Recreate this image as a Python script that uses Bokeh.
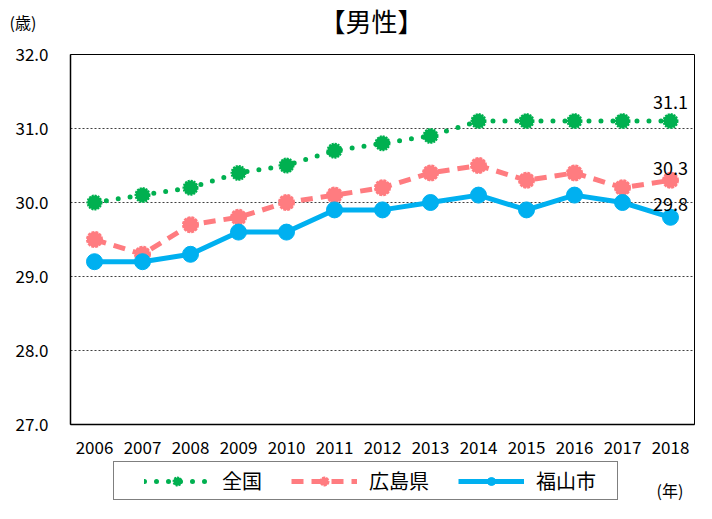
from bokeh.plotting import figure
from bokeh.layouts import column
from bokeh.models import Label, Legend, LegendItem, FixedTicker, NumeralTickFormatter, Range1d
from bokeh.embed import file_html
from bokeh.resources import INLINE

years = [2006, 2007, 2008, 2009, 2010, 2011, 2012, 2013, 2014, 2015, 2016, 2017, 2018]
zenkoku = [30.0, 30.1, 30.2, 30.4, 30.5, 30.7, 30.8, 30.9, 31.1, 31.1, 31.1, 31.1, 31.1]
hiroshima = [29.5, 29.3, 29.7, 29.8, 30.0, 30.1, 30.2, 30.4, 30.5, 30.3, 30.4, 30.2, 30.3]
fukuyama = [29.2, 29.2, 29.3, 29.6, 29.6, 29.9, 29.9, 30.0, 30.1, 29.9, 30.1, 30.0, 29.8]
y_ticks = [27, 28, 29, 30, 31, 32]
series_names = ["全国", "広島県", "福山市"]
title_text = "【男性】"
y_unit = "(歳)"
x_unit = "(年)"

FONT = "Noto Sans CJK JP"
GREEN = "#00B050"
PINK = "#FF7C80"
BLUE = "#00B0F0"
W = 696
HEAD_H, MAIN_H, FOOT_H = 40, 420, 43


def blank(h):
    f = figure(width=W, height=h, output_backend="svg", toolbar_location=None,
               min_border=0, x_range=Range1d(0, W), y_range=Range1d(0, h),
               x_axis_location=None, y_axis_location=None, frame_align=False)
    f.grid.grid_line_color = None
    f.outline_line_color = None
    f.background_fill_color = "white"
    f.border_fill_color = "white"
    return f


# header with title and unit
head = blank(HEAD_H)
head.add_layout(Label(x=371, y=HEAD_H - 20, text=title_text, text_align="center",
                      text_baseline="middle", text_font=FONT, text_font_size="26px",
                      text_color="black"))
head.add_layout(Label(x=9, y=HEAD_H - 21, text=y_unit, text_align="left",
                      text_baseline="middle", text_font=FONT, text_font_size="16px",
                      text_color="black"))

# main chart
p = figure(width=W, height=MAIN_H, output_backend="svg", toolbar_location=None,
           min_border_left=70, min_border_right=2, min_border_top=14, min_border_bottom=36,
           x_range=Range1d(years[0] - 0.5, years[-1] + 0.5), y_range=Range1d(27, 32),
           frame_align=False)
p.outline_line_color = "black"
p.outline_line_width = 1
p.background_fill_color = "white"
p.border_fill_color = "white"

p.xgrid.grid_line_color = None
p.ygrid.grid_line_color = "#404040"
p.ygrid.grid_line_dash = "2 2"
p.ygrid.grid_line_width = 1
p.ygrid.ticker = FixedTicker(ticks=y_ticks)

p.yaxis.ticker = FixedTicker(ticks=y_ticks)
p.yaxis.formatter = NumeralTickFormatter(format="0.0")
p.xaxis.ticker = FixedTicker(ticks=years)
for ax in (p.xaxis, p.yaxis):
    ax.major_tick_line_color = None
    ax.minor_tick_line_color = None
    ax.axis_line_color = "black"
    ax.axis_line_width = 1.5
    ax.major_label_text_font = FONT
    ax.major_label_text_font_size = "17px"
    ax.major_label_text_color = "black"
p.yaxis.major_label_standoff = 16
p.xaxis.major_label_standoff = 10

line_styles = [
    dict(line_color=GREEN, line_width=5, line_dash="0 12", line_cap="round"),
    dict(line_color=PINK, line_width=5, line_dash="12 8"),
    dict(line_color=BLUE, line_width=5),
]
marker_styles = [
    dict(size=14, fill_color=GREEN, line_color=GREEN, line_width=2, line_dash="2 1"),
    dict(size=15, fill_color=PINK, line_color=PINK, line_width=2, line_dash="3 1"),
    dict(size=16, fill_color=BLUE, line_color=BLUE),
]
series = [zenkoku, hiroshima, fukuyama]
for vals, ls, ms in zip(series, line_styles, marker_styles):
    p.line(years, vals, **ls)
    p.scatter(years, vals, **ms)

# end labels
for vals, off in zip(series, (12, 5, 6)):
    p.add_layout(Label(x=years[-1], y=vals[-1], text=f"{vals[-1]:.1f}", y_offset=off,
                       text_align="center", text_baseline="bottom",
                       text_font=FONT, text_font_size="18px", text_color="black"))

# footer with legend and x unit (legend proxies lie outside the footer's ranges)
foot = blank(FOOT_H)
items = []
for name, vals, ls, ms in zip(series_names, series, line_styles, marker_styles):
    r1 = foot.line(years, vals, **ls)
    r2 = foot.scatter(years, vals, **ms)
    items.append(LegendItem(label=name, renderers=[r1, r2]))
legend = Legend(items=items, orientation="horizontal", location=(113, 3))
legend.glyph_width = 66
legend.glyph_height = 20
legend.label_standoff = 12
legend.spacing = 29
legend.padding = (30, 21, 4, 4)
legend.margin = 0
legend.border_line_color = "black"
legend.border_line_width = 1
legend.background_fill_color = "white"
legend.background_fill_alpha = 1
legend.label_text_font = FONT
legend.label_text_font_size = "20px"
legend.label_text_color = "black"
foot.add_layout(legend, "center")
foot.add_layout(Label(x=656, y=14, text=x_unit, text_align="left", text_baseline="middle",
                      text_font=FONT, text_font_size="16px", text_color="black"))

layout = column(head, p, foot, spacing=0)
open("out.html", "w").write(file_html(layout, INLINE))
